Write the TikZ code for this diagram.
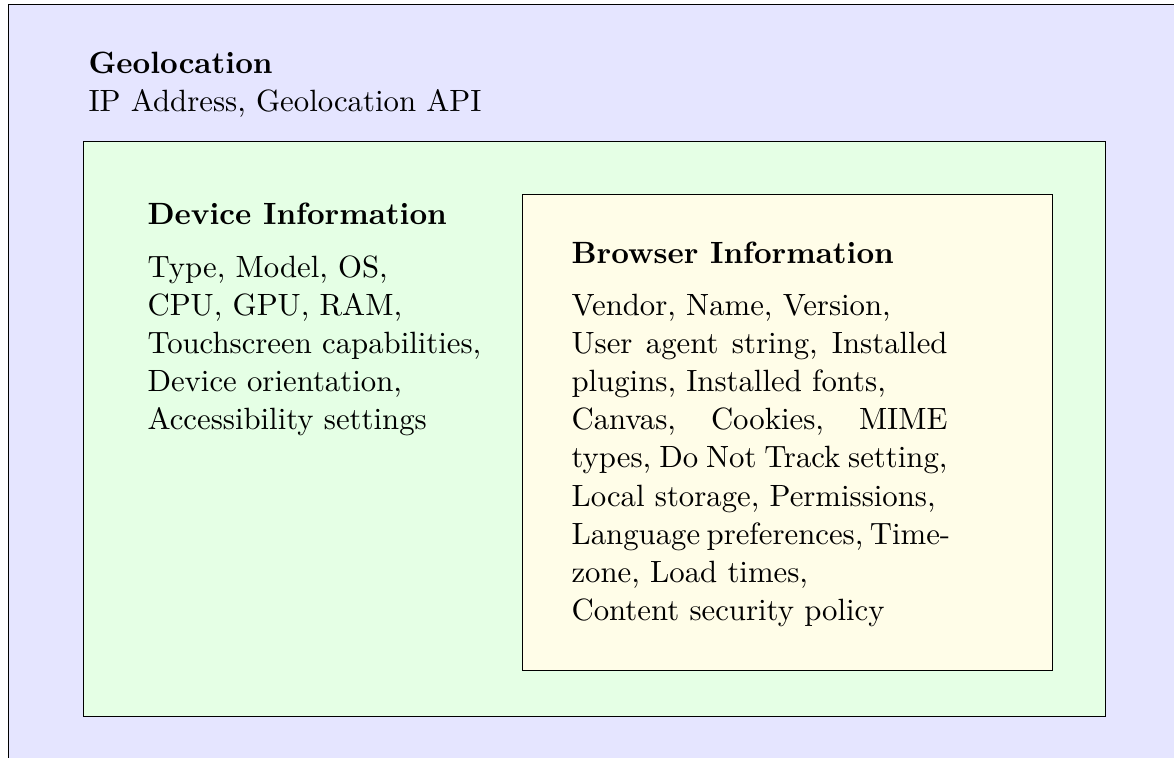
\documentclass[tikz,border=0pt]{standalone}
\usepackage{xcolor}
\definecolor{outerfill}{RGB}{229,229,255}
\definecolor{midfill}{RGB}{229,255,229}
\definecolor{innerfill}{RGB}{255,253,232}
\newcommand{\jline}[1]{\leavevmode\hbox to 133.8pt{#1}}
\tikzset{
  boxframe/.style={draw=black, line width=0.4pt, inner sep=0pt, anchor=north west},
  txt/.style={inner sep=0pt, anchor=base west, font=\fontsize{10.95pt}{13.6pt}\selectfont},
  ttl/.style={inner sep=0pt, anchor=base west, font=\fontsize{10.95pt}{13.6pt}\selectfont\bfseries},
}
\begin{document}
\begin{tikzpicture}[x=0.3559pt,y=-0.3559pt]
\useasboundingbox (0,0) rectangle (1174,758);
\clip (0,0) rectangle (1174,758);
\node[boxframe, fill=outerfill, minimum width=462.7pt, minimum height=320.3pt] (outer) at (8,4) {};
\node[boxframe, fill=midfill, minimum width=363.7pt, minimum height=204.6pt] (mid) at (83,141) {};
\node[boxframe, fill=innerfill, minimum width=188.6pt, minimum height=169.4pt] (inner) at (522,194) {};
\node[ttl] (geo) at (88,74) {Geolocation};
\node[txt] (geodesc) at (88,112) {IP Address, Geolocation API};
\node[ttl] (dev) at (147,225) {Device Information};
\node[txt] (devdesc) at (147,277) {\parbox[t]{130pt}{\raggedright Type, Model, OS,\\ CPU, GPU, RAM,\\ Touchscreen capabilities,\\ Device orientation,\\ Accessibility settings}};
\node[ttl] (brw) at (571,263) {Browser Information};
\node[txt] (brwdesc) at (571,315) {\parbox[t]{145pt}{\raggedright Vendor, Name, Version,\\ \jline{User agent string, Installed}\\ plugins, Installed fonts,\\ \jline{Canvas,\hfill Cookies,\hfill MIME}\\ \jline{types, Do Not Track setting,}\\ Local storage, Permissions,\\ \jline{Language\hskip 2.3pt preferences,\hskip 2.3pt Time-\hss}\\ zone, Load times,\\ Content security policy}};
\end{tikzpicture}
\end{document}
